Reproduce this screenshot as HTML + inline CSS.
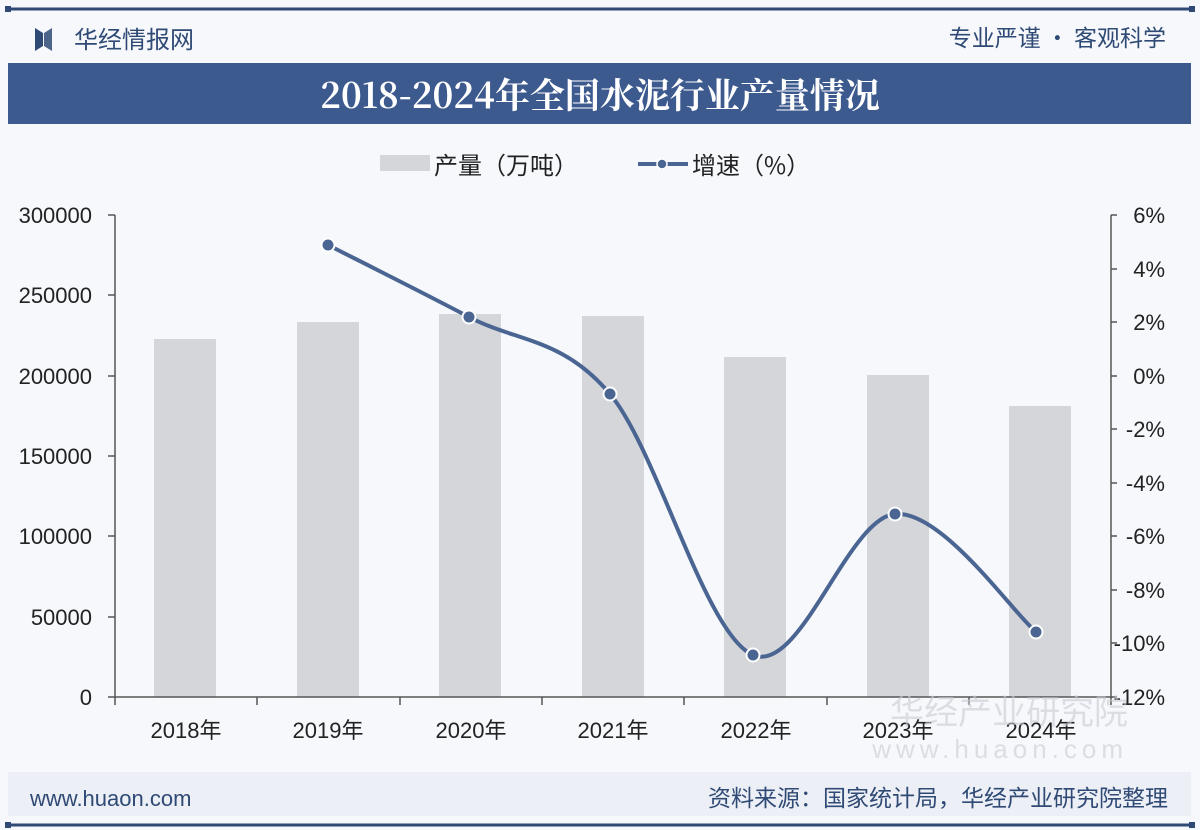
<!DOCTYPE html>
<html><head><meta charset="utf-8"><style>
body{margin:0;width:1200px;height:830px;background:#f6f8fb;overflow:hidden;font-family:"Liberation Sans","Noto Sans CJK SC",sans-serif}
</style></head><body>
<svg width="1200" height="830" xmlns="http://www.w3.org/2000/svg" style="position:absolute;left:0;top:0">
<rect x="0" y="0" width="1200" height="830" fill="#f6f8fb"/>
<line x1="8" y1="9" x2="1192" y2="9" stroke="#2f4a75" stroke-width="3"/>
<rect x="5" y="6" width="6" height="6" fill="#2f4a75"/><rect x="1189" y="6" width="6" height="6" fill="#2f4a75"/>
<polygon points="35,28 43,33 43,46 35,51" fill="#2f4a75"/><polygon points="52,28 44,33 44,46 52,51" fill="#2f4a75" opacity="0.85"/>
<text x="74" y="48" font-size="24" fill="#2f4a75" font-family="Noto Sans CJK SC,sans-serif">华经情报网</text>
<text x="1166" y="46" font-size="23" fill="#2f4a75" text-anchor="end" font-family="Noto Sans CJK SC,sans-serif">专业严谨 • 客观科学</text>
<rect x="8" y="63" width="1183" height="61" fill="#3d5a8f"/>
<text x="600" y="108" font-size="35" font-weight="bold" fill="#fff" text-anchor="middle" font-family="Noto Serif CJK SC,Noto Sans CJK SC,serif">2018-2024年全国水泥行业产量情况</text>
<!-- legend -->
<rect x="380" y="155" width="50" height="16" fill="#d5d6d9"/>
<text x="434" y="174" font-size="24" fill="#222" font-family="Noto Sans CJK SC,sans-serif">产量（万吨）</text>
<line x1="638" y1="164" x2="688" y2="164" stroke="#4b6593" stroke-width="4"/>
<circle cx="662" cy="164" r="5" fill="#4b6593" stroke="#fff" stroke-width="1.5"/>
<text x="692" y="174" font-size="24" fill="#222" font-family="Noto Sans CJK SC,sans-serif">增速（%）</text>
<!-- bars -->
<g fill="#d5d6d9">
<rect x="154" y="339" width="62" height="358"/>
<rect x="297" y="322" width="62" height="375"/>
<rect x="439" y="314" width="62" height="383"/>
<rect x="582" y="316" width="62" height="381"/>
<rect x="724" y="357" width="62" height="340"/>
<rect x="867" y="375" width="62" height="322"/>
<rect x="1009" y="406" width="62" height="291"/>
</g>
<!-- axes -->
<g stroke="#555" stroke-width="1.5" fill="none">
<line x1="115" y1="215" x2="115" y2="697"/>
<line x1="1111" y1="215" x2="1111" y2="697"/>
<line x1="115" y1="697" x2="1111" y2="697"/>
<path d="M108 215H115M108 295H115M108 376H115M108 456H115M108 536H115M108 617H115M108 697H115"/>
<path d="M1111 215H1117M1111 269H1117M1111 322H1117M1111 376H1117M1111 429H1117M1111 483H1117M1111 536H1117M1111 590H1117M1111 643H1117M1111 697H1117"/>
<path d="M115 697V705M257 697V705M400 697V705M542 697V705M684 697V705M827 697V705M969 697V705M1111 697V705"/>
</g>
<g font-size="22" fill="#222" text-anchor="end">
<text x="92" y="223">300000</text><text x="92" y="303">250000</text><text x="92" y="384">200000</text>
<text x="92" y="464">150000</text><text x="92" y="544">100000</text><text x="92" y="625">50000</text><text x="92" y="705">0</text>
</g>
<g font-size="22" fill="#222" text-anchor="end">
<text x="1165" y="223">6%</text><text x="1165" y="277">4%</text><text x="1165" y="330">2%</text><text x="1165" y="384">0%</text>
<text x="1165" y="437">-2%</text><text x="1165" y="491">-4%</text><text x="1165" y="544">-6%</text><text x="1165" y="598">-8%</text>
<text x="1165" y="651">-10%</text><text x="1165" y="705">-12%</text>
</g>
<g font-size="22" fill="#222" text-anchor="middle" font-family="Liberation Sans,Noto Sans CJK SC,sans-serif">
<text x="186" y="738">2018年</text><text x="328" y="738">2019年</text><text x="471" y="738">2020年</text><text x="613" y="738">2021年</text>
<text x="756" y="738">2022年</text><text x="898" y="738">2023年</text><text x="1041" y="738">2024年</text>
</g>
<text x="1128" y="724" font-size="34" fill="#c9ccd2" text-anchor="end" opacity="0.6" font-family="Noto Sans CJK SC,sans-serif">华经产业研究院</text>
<text x="1128" y="758" font-size="26" fill="#c9ccd2" text-anchor="end" opacity="0.6" letter-spacing="5">www.huaon.com</text>
<!-- line -->
<path d="M328 245C351.5 257 422 292.2 469 317C516 341.8 562.7 337.7 610 394C657.3 450.3 705.5 635 753 655C800.5 675 847.8 517.8 895 514C942.2 510.2 1012.5 612.3 1036 632" fill="none" stroke="#4b6593" stroke-width="4"/>
<g fill="#4b6593" stroke="#fff" stroke-width="2">
<circle cx="328" cy="245" r="6.5"/><circle cx="469" cy="317" r="6.5"/><circle cx="610" cy="394" r="6.5"/>
<circle cx="753" cy="655" r="6.5"/><circle cx="895" cy="514" r="6.5"/><circle cx="1036" cy="632" r="6.5"/>
</g>
<!-- footer -->
<rect x="8" y="772" width="1183" height="44" fill="#eceff5"/>
<text x="30" y="806" font-size="22" fill="#2f4a75">www.huaon.com</text>
<text x="1168" y="806" font-size="23" fill="#2f4a75" text-anchor="end" font-family="Noto Sans CJK SC,sans-serif">资料来源：国家统计局，华经产业研究院整理</text>
<line x1="8" y1="825" x2="1192" y2="825" stroke="#2f4a75" stroke-width="3"/>
<rect x="5" y="822" width="6" height="6" fill="#2f4a75"/><rect x="1189" y="822" width="6" height="6" fill="#2f4a75"/>
</svg>
</body></html>
